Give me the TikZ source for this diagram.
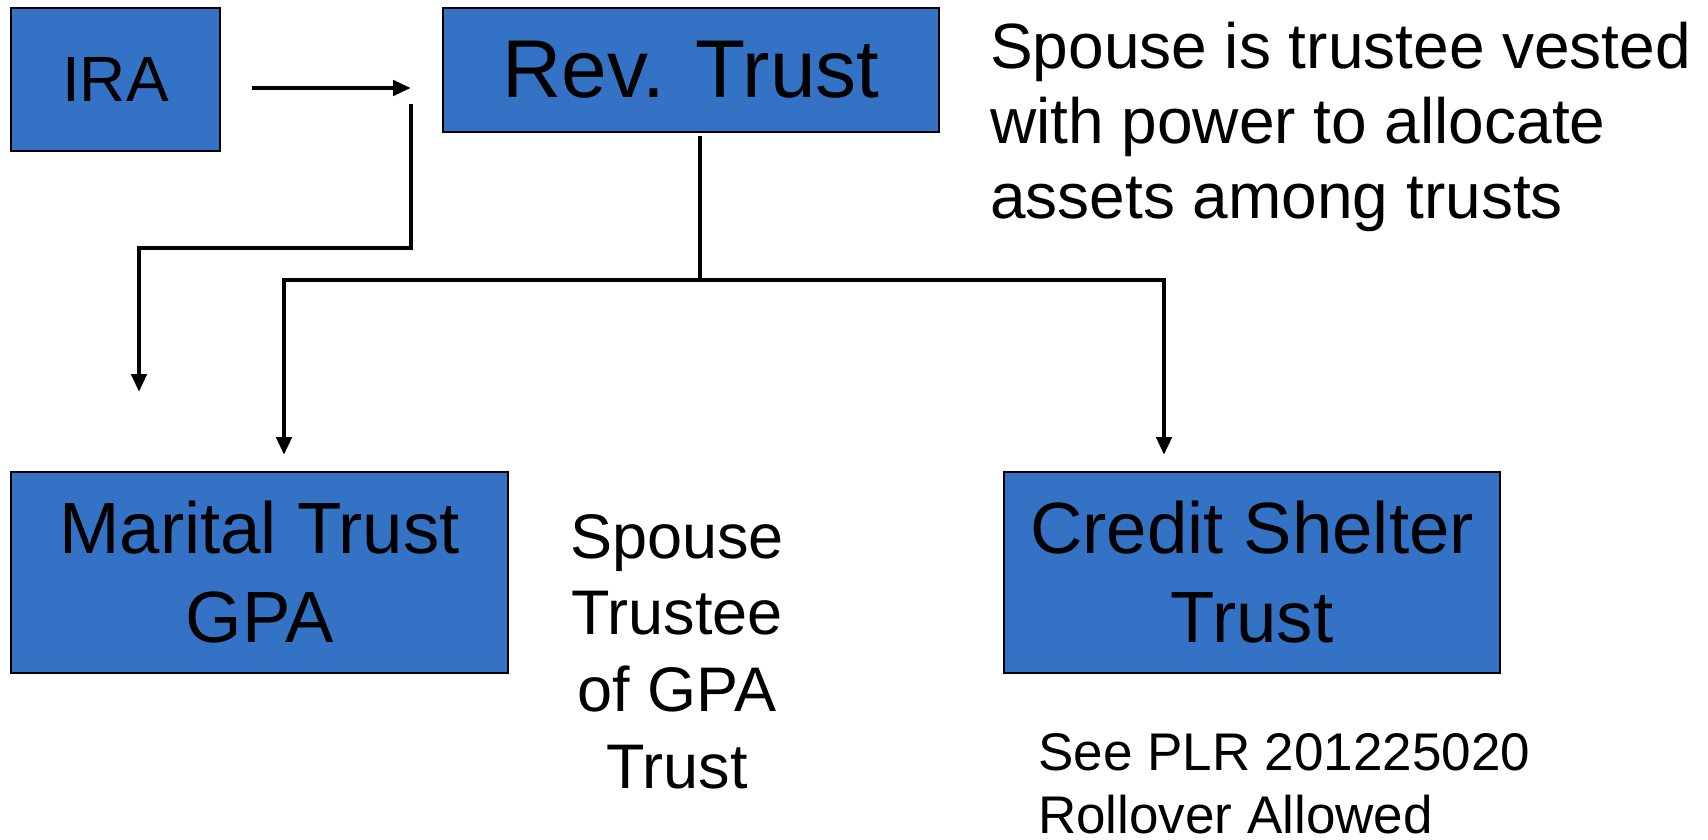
\documentclass[tikz,border=0pt]{standalone}
\usepackage{fontspec}
\setmainfont{Liberation Sans}
\usetikzlibrary{arrows.meta}
\definecolor{boxblue}{RGB}{51,114,196}
\begin{document}
\begin{tikzpicture}[x=1pt,y=-1pt,
  box/.style={draw=black, line width=1.5pt, fill=boxblue, inner sep=0pt, align=center},
  wire/.style={line width=4.5pt},
  tip/.style={Triangle[length=18pt,width=15pt]},
  arr/.style={wire, -{Triangle[length=18pt,width=15pt]}},
  note/.style={inner sep=0pt}]
\useasboundingbox (0,0) rectangle (1708,840);

% boxes
\node[box, minimum width=209pt, minimum height=143pt, font=\fontsize{64}{70}\selectfont]
  (ira) at (115.5,79.5) {IRA};
\node[box, minimum width=496pt, minimum height=124pt, font=\fontsize{82}{90}\selectfont]
  (rev) at (691,70) {Rev. Trust};
\node[box, minimum width=497pt, minimum height=201pt, font=\fontsize{72.6}{89}\selectfont]
  (marital) at (259.5,572.5) {Marital Trust\\GPA};
\node[box, minimum width=496pt, minimum height=201pt, font=\fontsize{72.6}{89}\selectfont]
  (credit) at (1252,572.5) {Credit Shelter\\Trust};

% notes
\node[note, anchor=north west, align=left, font=\fontsize{64}{75}\selectfont]
  (power) at (990,22) {Spouse is trustee vested\\with power to allocate\\assets among trusts};
\node[note, anchor=north, align=center, font=\fontsize{63}{76.7}\selectfont]
  (gpa) at (677,514) {Spouse\\Trustee\\of GPA\\Trust};
\node[note, anchor=north west, align=left, font=\fontsize{53}{63}\selectfont]
  (plr) at (1038,733) {See PLR 201225020\\Rollover Allowed};

% connector ends
\coordinate (iraout) at (252,88);
\coordinate (iraend) at (411,88);
\coordinate (rollstart) at (411,104);
\coordinate (rollend) at (139,392);
\coordinate (revout) at (700,136);
\coordinate (split) at (700,280);
\coordinate (leftend) at (284,455);
\coordinate (rightend) at (1164,455);

% connectors
\draw[arr] (iraout) -- (iraend);
\draw[arr] (rollstart) -- (411,248) -- (rollend |- 0,248) -- (rollend);
\draw[wire] (revout) -- (split);
\draw[wire, {Triangle[length=18pt,width=15pt]}-{Triangle[length=18pt,width=15pt]}]
  (leftend) -- (leftend |- split) -- (rightend |- split) -- (rightend);
\end{tikzpicture}
\end{document}
